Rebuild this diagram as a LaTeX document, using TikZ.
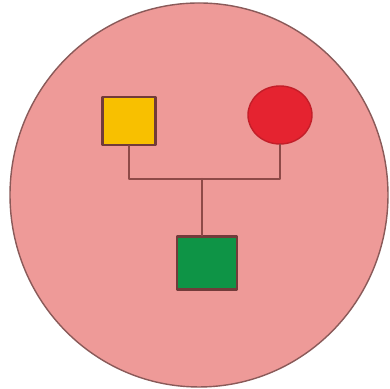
\documentclass[tikz,border=0pt]{standalone}
\usetikzlibrary{shapes.geometric}
\definecolor{bgpink}{HTML}{EE9A98}
\definecolor{pedyellow}{HTML}{F8C000}
\definecolor{pedred}{HTML}{E52330}
\definecolor{pedgreen}{HTML}{0E9446}
\definecolor{linkbrown}{HTML}{8E4A48}
\begin{document}
\begin{tikzpicture}[x=0.01cm, y=-0.01cm, line join=round, line cap=round]
		\tikzset{male/.style={rectangle, draw=linkbrown!80!black, line width=0.6pt, inner sep=0pt},
			female/.style={ellipse, draw=pedred!85!black, line width=0.4pt, inner sep=0pt},
			link/.style={draw=linkbrown, line width=0.6pt}}
		\useasboundingbox (0,0) rectangle (390,389);
		\fill[white] (0,0) rectangle (390,389);
		\draw[fill=bgpink, draw=linkbrown!70!gray, line width=0.4pt] (199,195) ellipse (189 and 192);
		% parents
		\node[male, fill=pedyellow, minimum width=53*0.01cm, minimum height=48*0.01cm] (father) at (129,121) {};
		\node[female, fill=pedred, minimum width=64*0.01cm, minimum height=58*0.01cm] (mother) at (280,115) {};
		% child
		\node[male, fill=pedgreen, minimum width=60*0.01cm, minimum height=53*0.01cm] (child) at (207,263) {};
		\coordinate (bar) at (202,179);
		\draw[link] (father.south) |- (bar) -| (mother.south);
		\draw[link] (bar) -- (bar |- child.north);
	\end{tikzpicture}
\end{document}
